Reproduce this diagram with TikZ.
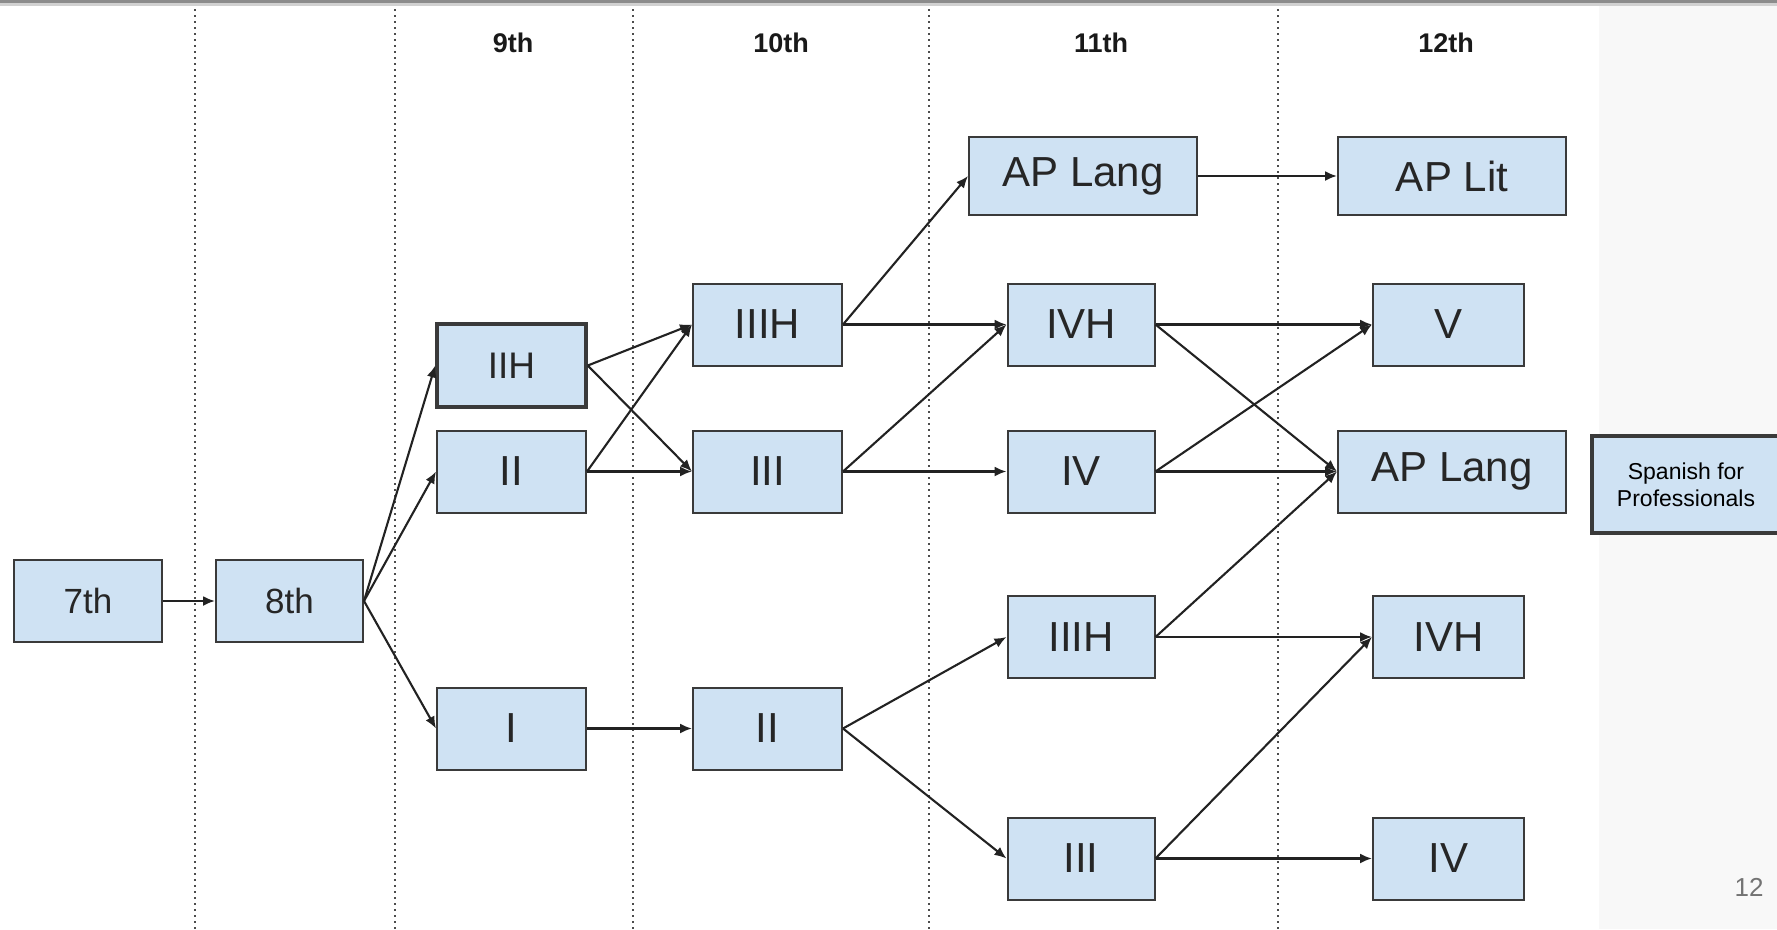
\documentclass[tikz,border=0pt]{standalone}
\usepackage{fontspec}
\setmainfont{Liberation Sans}
\usetikzlibrary{arrows.meta}
\definecolor{boxfill}{HTML}{CFE2F3}
\definecolor{boxline}{HTML}{3A3A3A}
\definecolor{arrowc}{HTML}{222222}
\definecolor{panel}{HTML}{F8F8F8}
\begin{document}
\begin{tikzpicture}[x=1pt,y=-1pt,
  box/.style={draw=boxline, line width=2pt, fill=boxfill, minimum width=149pt, minimum height=82pt, inner sep=0pt, text=black!85, font=\fontsize{42}{48}\selectfont},
  wbox/.style={box, minimum width=228pt, minimum height=78pt},
  arr/.style={draw=arrowc, line width=2.1pt, -{Latex[length=12pt,width=10pt]}},
  gridline/.style={draw=black!70, line width=1.6pt, dash pattern=on 2pt off 4pt},
  head/.style={font=\fontsize{27}{30}\selectfont\bfseries, text=black!90}]

\useasboundingbox (0,0) rectangle (1777,929);
\fill[white] (0,0) rectangle (1599,929);
\fill[panel] (1599,0) rectangle (1777,929);
\fill[black!45] (0,0) rectangle (1777,3);
\fill[black!18] (0,3) rectangle (1777,6);

% column separators
\foreach \xx in {195,395,633,929,1278}
  \draw[gridline] (\xx,9) -- (\xx,929);

% headers
\node[head] (h9) at (513,43) {9th};
\node[head] (h10) at (781,43) {10th};
\node[head] (h11) at (1101,43) {11th};
\node[head] (h12) at (1446,43) {12th};

% nodes
\node[box, minimum width=148pt, font=\fontsize{35}{40}\selectfont] (g7) at (88,601) {7th};
\node[box, minimum width=147pt, font=\fontsize{35}{40}\selectfont] (g8) at (289.5,601) {8th};

\node[box, line width=3.5pt, minimum height=83pt, font=\fontsize{37}{42}\selectfont] (a9IIH) at (511.5,365.5) {IIH};
\node[box] (a9II) at (511.5,471.5) {II};
\node[box] (a9I) at (511.5,728.5) {I};

\node[box] (a10IIIH) at (767.5,324.5) {IIIH};
\node[box] (a10III) at (767.5,471.5) {III};
\node[box] (a10II) at (767.5,728.5) {II};

\node[wbox] (a11AP) at (1083,176) {AP Lang};
\node[box, minimum width=147pt] (a11IVH) at (1081,324.5) {IVH};
\node[box, minimum width=147pt] (a11IV) at (1081,471.5) {IV};
\node[box, minimum width=147pt] (a11IIIH) at (1081,637) {IIIH};
\node[box, minimum width=147pt] (a11III) at (1081,858.5) {III};

\node[wbox] (a12Lit) at (1452,176) {AP Lit};
\node[box, minimum width=151pt] (a12V) at (1448.5,324.5) {V};
\node[wbox, minimum height=82pt] (a12AP) at (1452,471.5) {AP Lang};
\node[box, minimum width=151pt] (a12IVH) at (1448.5,637) {IVH};
\node[box, minimum width=151pt] (a12IV) at (1448.5,858.5) {IV};

\node[box, line width=3.5pt, minimum width=188pt, minimum height=97pt, align=center, font=\fontsize{23}{27}\selectfont, text=black] (sp) at (1686,484.5) {Spanish for\\Professionals};

\node[font=\fontsize{26}{30}\selectfont, text=black!55] (pg) at (1749,887) {12};

% connectors
\draw[arr] (g7.east) -- (g8.west);
\draw[arr] (g8.east) -- (a9IIH.west);
\draw[arr] (g8.east) -- (a9II.west);
\draw[arr] (g8.east) -- (a9I.west);

\draw[arr] (a9IIH.east) -- (a10IIIH.west);
\draw[arr] (a9IIH.east) -- (a10III.west);
\draw[arr] (a9II.east) -- (a10IIIH.west);
\draw[arr] (a9II.east) -- (a10III.west);
\draw[arr] (a9I.east) -- (a10II.west);

\draw[arr] (a10IIIH.east) -- (a11AP.west);
\draw[arr] (a10IIIH.east) -- (a11IVH.west);
\draw[arr] (a10III.east) -- (a11IVH.west);
\draw[arr] (a10III.east) -- (a11IV.west);
\draw[arr] (a10II.east) -- (a11IIIH.west);
\draw[arr] (a10II.east) -- (a11III.west);

\draw[arr] (a11AP.east) -- (a12Lit.west);
\draw[arr] (a11IVH.east) -- (a12V.west);
\draw[arr] (a11IVH.east) -- (a12AP.west);
\draw[arr] (a11IV.east) -- (a12V.west);
\draw[arr] (a11IV.east) -- (a12AP.west);
\draw[arr] (a11IIIH.east) -- (a12AP.west);
\draw[arr] (a11IIIH.east) -- (a12IVH.west);
\draw[arr] (a11III.east) -- (a12IVH.west);
\draw[arr] (a11III.east) -- (a12IV.west);
\end{tikzpicture}
\end{document}
